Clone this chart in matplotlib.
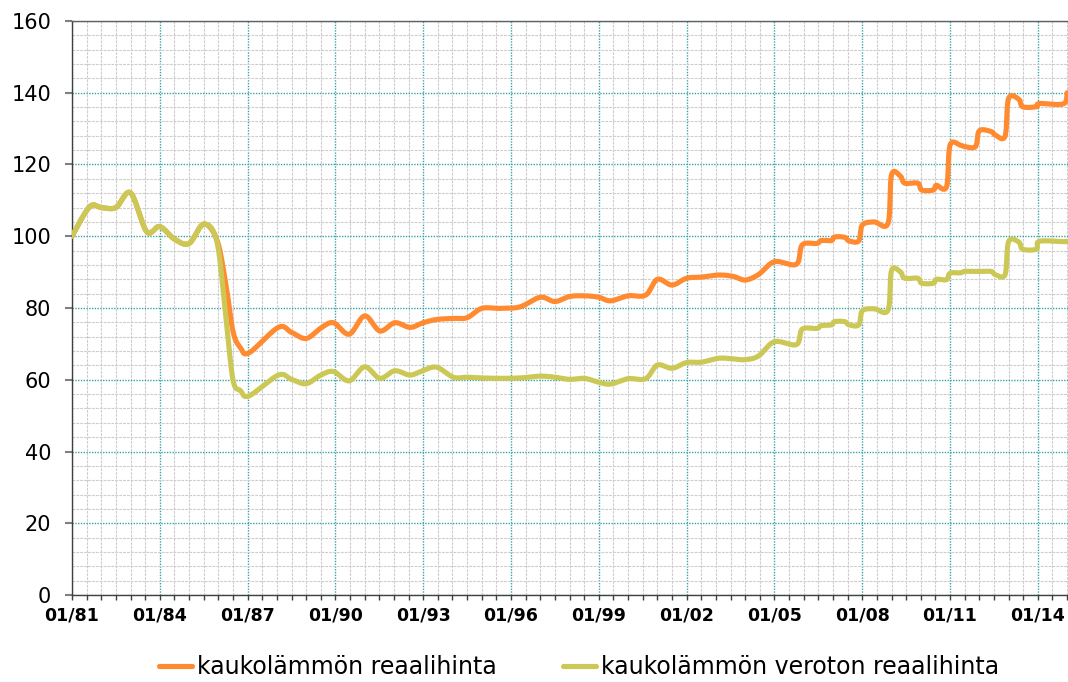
import numpy as np
import matplotlib
matplotlib.use("Agg")
import matplotlib.pyplot as plt
from matplotlib.ticker import MultipleLocator, FixedLocator

# ---- data (decimal years, index values) ----
years = [1981.0, 1981.6, 1982.0, 1982.5, 1983.0, 1983.55, 1984.0, 1984.5, 1985.0, 1985.5,
         1985.95, 1986.25, 1986.5, 1986.75, 1987.05, 1988.05, 1988.5, 1989.0, 1989.5, 1989.93,
         1990.47, 1991.0, 1991.52, 1992.03, 1992.55, 1993.0, 1993.46, 1994.03, 1994.5, 1995.0,
         1995.6, 1996.3, 1997.0, 1997.5, 1998.0, 1998.5, 1999.0, 1999.4, 2000.0, 2000.6,
         2001.0, 2001.5, 2002.0, 2002.5, 2003.1, 2003.6, 2004.0, 2004.45, 2005.0, 2005.75,
         2005.95, 2006.45, 2006.6, 2006.95, 2007.05, 2007.4, 2007.55, 2007.88, 2008.0, 2008.4,
         2008.88, 2009.0, 2009.3, 2009.45, 2009.9, 2010.03, 2010.43, 2010.53, 2010.88, 2011.0,
         2011.35, 2011.5, 2011.87, 2012.0, 2012.4, 2012.55, 2012.88, 2013.0, 2013.35, 2013.48,
         2013.95, 2014.05, 2014.87, 2015.0]

orange_vals = [100.0, 108.2, 108.0, 108.0, 112.1, 101.3, 102.7, 99.2, 98.0, 103.4,
               99.0, 87.0, 73.5, 69.0, 67.5, 74.6, 73.2, 71.5, 74.4, 75.9,
               72.7, 77.8, 73.6, 75.9, 74.6, 75.9, 76.8, 77.1, 77.3, 79.9,
               79.9, 80.3, 83.0, 81.8, 83.2, 83.4, 83.0, 82.0, 83.4, 83.6,
               88.0, 86.4, 88.3, 88.6, 89.2, 88.8, 87.8, 89.3, 92.9, 92.2,
               97.6, 98.0, 98.8, 98.8, 99.8, 99.7, 98.7, 98.7, 103.1, 104.0,
               103.6, 117.1, 116.8, 114.8, 114.8, 112.9, 112.9, 114.2, 113.8, 125.4,
               125.4, 125.0, 125.0, 129.4, 129.2, 128.2, 127.9, 138.4, 138.2, 136.1,
               136.1, 137.0, 136.9, 140.0]

green_vals = [100.0, 108.2, 108.0, 108.0, 112.1, 101.3, 102.7, 99.2, 98.0, 103.4,
              98.5, 78.0, 60.0, 57.0, 55.5, 61.3, 60.1, 58.9, 61.3, 62.3,
              59.7, 63.6, 60.4, 62.5, 61.3, 62.6, 63.5, 60.7, 60.7, 60.5,
              60.4, 60.5, 61.0, 60.7, 60.1, 60.4, 59.3, 58.8, 60.3, 60.3,
              64.1, 63.2, 64.8, 64.9, 66.0, 65.8, 65.6, 66.6, 70.6, 69.8,
              74.1, 74.3, 75.1, 75.3, 76.2, 76.2, 75.3, 75.3, 79.2, 79.8,
              79.4, 90.4, 90.1, 88.3, 88.3, 86.9, 86.9, 88.0, 87.9, 89.7,
              89.8, 90.2, 90.2, 90.2, 90.2, 89.3, 89.3, 98.5, 98.4, 96.4,
              96.4, 98.6, 98.5, 98.6]

series_names = ["kaukolämmön reaalihinta", "kaukolämmön veroton reaalihinta"]
tick_years = list(range(1981, 2015, 3))
tick_labels = ["01/%02d" % (y % 100) for y in tick_years]

ORANGE = "#FF8A30"
GREEN = "#CCC855"


def smooth(x, y, n=16):
    """Excel-like smoothed line (Bezier through points, tension 1/6)."""
    P = np.column_stack([x, y]).astype(float)
    m = len(P)
    out = [P[0]]
    t = np.linspace(0, 1, n + 1)[1:, None]
    for i in range(m - 1):
        p0 = P[i - 1] if i > 0 else P[i]
        p1, p2 = P[i], P[i + 1]
        p3 = P[i + 2] if i + 2 < m else P[i + 1]
        c1 = p1 + (p2 - p0) / 6.0
        c2 = p2 - (p3 - p1) / 6.0
        seg = ((1 - t) ** 3) * p1 + 3 * ((1 - t) ** 2) * t * c1 + 3 * (1 - t) * t ** 2 * c2 + t ** 3 * p2
        out.extend(seg)
    out = np.array(out)
    return out[:, 0], out[:, 1]


fig = plt.figure(figsize=(10.68, 6.82), dpi=100)
ax = fig.add_axes([72 / 1068, 1 - 595 / 682, 1 - 72 / 1068, (595 - 21) / 682])

xo, yo = smooth(years, orange_vals)
xg, yg = smooth(years, green_vals)
l1, = ax.plot(xo, yo, color=ORANGE, lw=3.7, solid_capstyle="round", solid_joinstyle="round", zorder=3)
l2, = ax.plot(xg, yg, color=GREEN, lw=3.7, solid_capstyle="round", solid_joinstyle="round", zorder=4)

ax.set_xlim(1981, 2015.03)
ax.set_ylim(0, 160)

ax.xaxis.set_major_locator(FixedLocator(tick_years))
ax.xaxis.set_minor_locator(MultipleLocator(0.5))
ax.set_xticks(tick_years)
ax.set_xticklabels(tick_labels, fontweight="bold", fontsize=12.5)
ax.yaxis.set_major_locator(MultipleLocator(20))
ax.yaxis.set_minor_locator(MultipleLocator(4))

ax.tick_params(axis="y", which="major", length=5, width=1.5, color="#808080", pad=10, labelsize=15)
ax.tick_params(axis="y", which="minor", length=0)
ax.tick_params(axis="x", which="both", direction="out", length=3.5, width=1, color="#404040", pad=5)

ax.grid(which="minor", axis="both", color="#cdcdcd", linestyle=(0, (2.5, 1)), lw=0.8, zorder=0)
ax.grid(which="major", axis="both", color="#3aa3a3", linestyle=(0, (1, 1)), lw=1.0, zorder=1)
ax.set_axisbelow(True)

for s in ["left", "bottom"]:
    ax.spines[s].set_color("#404040")
    ax.spines[s].set_linewidth(1.0)
ax.spines["right"].set_visible(False)
ax.spines["top"].set_color("#606060")
ax.spines["top"].set_linewidth(1.0)

fig.legend([l1, l2], series_names, loc="center", bbox_to_anchor=(0.542, 0.022),
           ncol=2, frameon=False, fontsize=17, handlelength=1.4, handletextpad=0.2,
           columnspacing=2.8)

fig.savefig("out.png", dpi=100)
